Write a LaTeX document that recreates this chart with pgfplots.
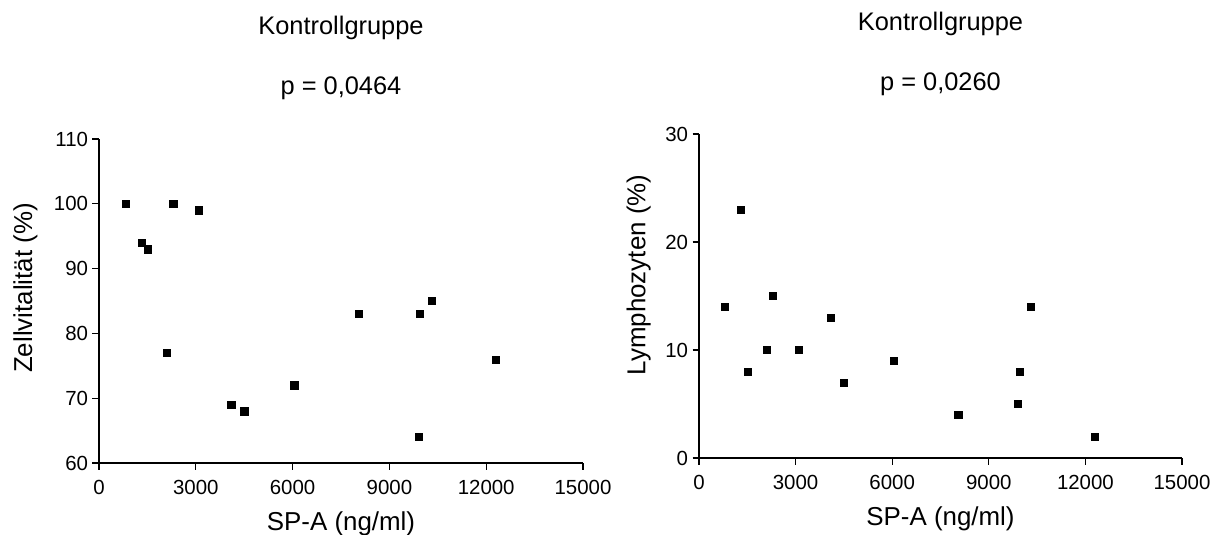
\documentclass[border=0pt]{standalone}
\usepackage{pgfplots}
\pgfplotsset{compat=1.18}
\usepackage{fontspec}
\setmainfont{Liberation Sans}
\pgfplotsset{
  scat/.style={
    scale only axis,
    axis x line=bottom, axis y line=left,
    axis line style={-, line width=1.3bp},
    tick style={line width=1.3bp, black},
    tick align=outside,
    major tick length=6.5bp,
    xmin=0, xmax=15000,
    xtick={0,3000,6000,9000,12000,15000},
    scaled x ticks=false,
    /pgf/number format/assume math mode=true,
    /pgf/number format/1000 sep={},
    tick label style={font=\fontsize{20.5}{24}\selectfont},
    xticklabel style={yshift=-7bp},
    yticklabel style={xshift=-1bp},
    label style={font=\fontsize{26}{31}\selectfont},
    xlabel style={at={(axis description cs:0.5,-0.207)}, anchor=base},
    minor tick num=0,
    clip=false,
  },
}
\pgfplotstableread{
x y
820 100
1320 94
1500 93
2100 77
2300 100
3100 99
4100 69
4500 68
6050 72
8050 83
9900 64
9950 83
10300 85
12300 76
}\viab
\pgfplotstableread{
x y
800 14
1300 23
1500 8
2100 10
2300 15
3100 10
4100 13
4500 7
6050 9
8050 4
9900 5
9950 8
10300 14
12300 2
}\lymph
\begin{document}
\begin{tikzpicture}
\path[use as bounding box] (0,0) rectangle (1222bp,535bp);
\begin{axis}[scat,
  at={(99bp,72bp)}, anchor=south west,
  width=484bp, height=324bp,
  ymin=60, ymax=110, ytick={60,70,...,110},
  xlabel={SP-A (ng/ml)},
  ylabel={Zellvitalität (\%)},
  ylabel style={at={(axis description cs:-0.152,0.540)}, anchor=center},
]
\addplot[only marks, mark=square*, mark size=3.6bp, black] table[x=x,y=y] {\viab};
\node[font=\fontsize{25.5}{30}\selectfont, anchor=base] at (axis description cs:0.5,1.321) {Kontrollgruppe};
\node[font=\fontsize{25.5}{30}\selectfont, anchor=base] at (axis description cs:0.5,1.136) {p = 0,0464};
\end{axis}
\begin{axis}[scat,
  at={(699bp,77bp)}, anchor=south west,
  width=483bp, height=324bp,
  ymin=0, ymax=30, ytick={0,10,20,30},
  xlabel={SP-A (ng/ml)},
  ylabel={Lymphozyten (\%)},
  ylabel style={at={(axis description cs:-0.125,0.565)}, anchor=center},
]
\addplot[only marks, mark=square*, mark size=3.6bp, black] table[x=x,y=y] {\lymph};
\node[font=\fontsize{25.5}{30}\selectfont, anchor=base] at (axis description cs:0.5,1.318) {Kontrollgruppe};
\node[font=\fontsize{25.5}{30}\selectfont, anchor=base] at (axis description cs:0.5,1.133) {p = 0,0260};
\end{axis}
\end{tikzpicture}
\end{document}
